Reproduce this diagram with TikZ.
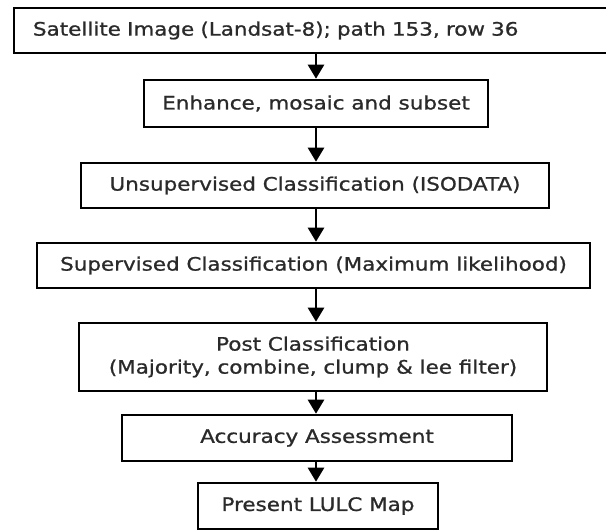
\documentclass[tikz,border=0pt]{standalone}
\usepackage{fontspec}
\setmainfont{DejaVu Sans}[FakeStretch=1.16,FakeBold=1]
\usetikzlibrary{arrows.meta}
\definecolor{textgray}{HTML}{2A2A2A}
\begin{document}
\begin{tikzpicture}[x=1pt,y=-1pt,
  box/.style={draw=black, line width=2.6pt, inner sep=0pt, text=textgray,
    font=\fontsize{18.5}{23}\selectfont, align=center},
  arr/.style={draw=black, line width=2.6pt, -{Triangle[width=16pt,length=14pt]}}]
\useasboundingbox (0,0) rectangle (606,531);
\clip (0,0) rectangle (606,531);
\coordinate (ax) at (316,0);
\node[box, minimum height=45pt, text width=587pt, inner xsep=19pt, align=left]
  (b1) at (326.5,30.5) {Satellite Image (Landsat-8); path 153, row 36};
\node[box, minimum width=344pt, minimum height=47pt] (b2) at (316,103.5)
  {Enhance, mosaic and subset};
\node[box, minimum width=468pt, minimum height=45pt] (b3) at (315,185.5)
  {Unsupervised Classification (ISODATA)};
\node[box, minimum width=553pt, minimum height=45pt] (b4) at (313.5,265.5)
  {Supervised Classification (Maximum likelihood)};
\node[box, minimum width=468pt, minimum height=68pt] (b5) at (313,357)
  {Post Classification\\(Majority, combine, clump \& lee filter)};
\node[box, minimum width=390pt, minimum height=46pt] (b6) at (317,438)
  {Accuracy Assessment};
\node[box, minimum width=240pt, minimum height=46pt] (b7) at (318,506)
  {Present LULC Map};
\draw[arr] (b1.south -| ax) -- (b2.north -| ax);
\draw[arr] (b2.south -| ax) -- (b3.north -| ax);
\draw[arr] (b3.south -| ax) -- (b4.north -| ax);
\draw[arr] (b4.south -| ax) -- (b5.north -| ax);
\draw[arr] (b5.south -| ax) -- (b6.north -| ax);
\draw[arr] (b6.south -| ax) -- (b7.north -| ax);
\end{tikzpicture}
\end{document}
